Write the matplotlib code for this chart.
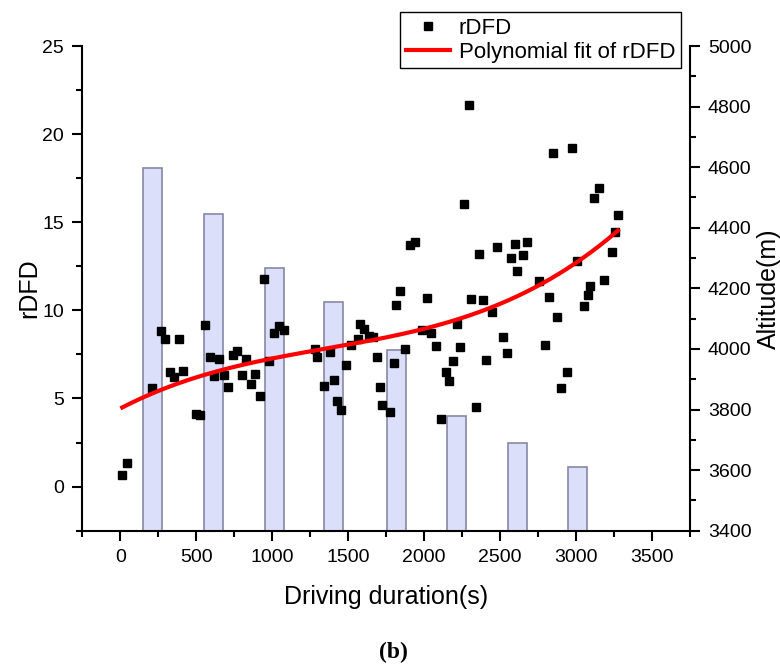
import numpy as np
import matplotlib
matplotlib.use("Agg")
import matplotlib.pyplot as plt
from matplotlib.ticker import MultipleLocator

plt.rcParams['font.family'] = ['Liberation Sans', 'DejaVu Sans']

# rDFD scatter data (driving duration s, rDFD)
dur = [13, 44, 206, 265, 292, 386, 325, 357, 410, 498, 528, 559, 588, 649, 620, 682,
       711, 739, 770, 829, 801, 890, 860, 921, 947, 980, 1015, 1046, 1075,
       1283, 1294, 1380, 1344, 1404, 1426, 1456, 1483, 1520, 1562, 1579, 1607, 1640,
       1664, 1689, 1709, 1726, 1775, 1799, 1873, 1818, 1842, 1910, 1939,
       2018, 1987, 2046, 2077, 2237, 2215, 2191, 2143, 2165, 2112, 2345, 2294, 2266,
       2312, 2391, 2450, 2362, 2478, 2410, 2518, 2546, 2597, 2572, 2651, 2614, 2678,
       2757, 2820, 2873, 2793, 2938, 2901, 2847, 2976, 3009, 3051, 3077, 3094, 3182,
       3120, 3149, 3237, 3256, 3276]
rdfd = [0.66, 1.36, 5.61, 8.82, 8.40, 8.38, 6.53, 6.23, 6.57, 4.11, 4.04, 9.16, 7.33, 7.25, 6.27, 6.31,
        5.68, 7.46, 7.67, 7.25, 6.31, 6.40, 5.85, 5.13, 11.76, 7.12, 8.72, 9.10, 8.86,
        7.82, 7.38, 7.63, 5.72, 6.04, 4.83, 4.32, 6.91, 8.06, 8.35, 9.20, 8.97, 8.53,
        8.50, 7.37, 5.68, 4.62, 4.25, 7.00, 7.78, 10.31, 11.08, 13.73, 13.86,
        10.72, 8.91, 8.74, 7.99, 7.91, 9.23, 7.12, 6.49, 5.98, 3.85, 4.53, 21.68, 16.05,
        10.67, 10.61, 9.91, 13.22, 13.60, 7.16, 8.48, 7.59, 13.75, 12.95, 13.12, 12.25, 13.88,
        11.69, 10.74, 9.65, 8.01, 6.53, 5.57, 18.92, 19.22, 12.78, 10.22, 10.86, 11.37, 11.73,
        16.35, 16.94, 13.29, 14.46, 15.41]

# Altitude bars
bar_x = [210, 615, 1017, 1403, 1818, 2213, 2613, 3009]
bar_alt = [4597, 4446, 4266, 4154, 3998, 3780, 3691, 3609]
alt_base = 3400

fig = plt.figure(figsize=(7.8, 6.64), dpi=100)
ax = fig.add_axes([0.1055, 0.2008, 0.779, 0.7299])
ax2 = ax.twinx()

ax2.bar(bar_x, np.array(bar_alt) - alt_base, bottom=alt_base, width=125,
        color='#dcdffa', edgecolor='#8787a6', linewidth=1.2, zorder=1)
ax2.set_ylim(3400, 5000)

ax.set_zorder(ax2.get_zorder() + 1)
ax.patch.set_visible(False)

sc, = ax.plot(dur, rdfd, linestyle='none', marker='s', markersize=5.5,
              color='black', label='rDFD')
x_arr = np.array(dur, dtype=float)
coef = np.polyfit(x_arr, np.array(rdfd), 3)
xf = np.linspace(x_arr.min(), x_arr.max(), 300)
fit, = ax.plot(xf, np.polyval(coef, xf), color='#ff0000', linewidth=3,
               label='Polynomial fit of rDFD')

ax.set_xlim(-250, 3750)
ax.set_ylim(-2.5, 25)
ax.xaxis.set_major_locator(MultipleLocator(500))
ax.xaxis.set_minor_locator(MultipleLocator(250))
ax.yaxis.set_major_locator(MultipleLocator(5))
ax.yaxis.set_minor_locator(MultipleLocator(2.5))
ax2.yaxis.set_major_locator(MultipleLocator(200))
ax2.yaxis.set_minor_locator(MultipleLocator(100))

for a in (ax, ax2):
    a.spines['top'].set_visible(False)
    for s in a.spines.values():
        s.set_linewidth(1.5)
ax.spines['right'].set_visible(False)
ax2.spines['left'].set_visible(False)
ax2.spines['bottom'].set_visible(False)

ax.tick_params(axis='both', which='major', direction='out', length=7, width=1.5,
               labelsize=14, pad=6)
ax.tick_params(axis='both', which='minor', direction='out', length=4.5, width=1.5)
ax2.tick_params(axis='y', which='major', direction='out', length=7, width=1.5,
                labelsize=14, pad=6)
ax2.tick_params(axis='y', which='minor', direction='out', length=4.5, width=1.5)

ax.set_xlabel('Driving duration(s)', fontsize=18)
ax.set_ylabel('rDFD', fontsize=18)
ax2.set_ylabel('Altitude(m)', fontsize=18)
ax.xaxis.set_label_coords(0.5, -0.112)
ax.yaxis.set_label_coords(-0.068, 0.5)
ax2.yaxis.set_label_coords(1.11, 0.5)

leg = ax.legend(handles=[sc, fit], loc='upper left',
                bbox_to_anchor=(400 / 780, 1 - 12 / 664), bbox_transform=fig.transFigure,
                fontsize=16, frameon=True, fancybox=False, framealpha=1,
                edgecolor='black', borderpad=0.25, labelspacing=0.15,
                handlelength=2.0, handletextpad=0.4, borderaxespad=0)
leg.get_frame().set_linewidth(1.0)

fig.text(393 / 780, 1 - 652 / 664, '(b)', ha='center', va='center',
         fontsize=17, fontweight='bold', family='Liberation Serif')

fig.savefig('out.png', dpi=100)
